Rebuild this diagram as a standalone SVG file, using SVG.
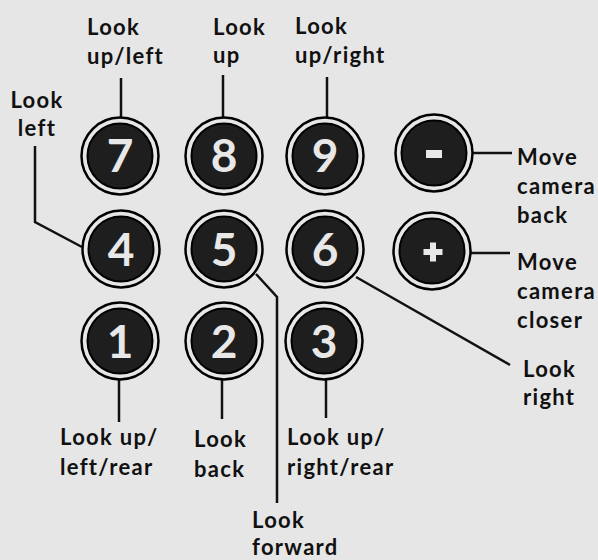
<svg xmlns="http://www.w3.org/2000/svg" width="598" height="560" viewBox="0 0 598 560">
<defs>
<style>
.lbl{font-family:Lato,"Liberation Sans",sans-serif;font-weight:700;font-size:22px;letter-spacing:1.3px;fill:#111}
.dig{font-family:Lato,"Liberation Sans",sans-serif;font-weight:700;font-size:46px;fill:#e8e8e8;text-anchor:middle}
.ring{fill:#e6e6e6;stroke:#000;stroke-width:2.5}
.core{fill:#1e1e1e;stroke:#000;stroke-width:2}
.ln{fill:none;stroke:#111;stroke-width:2.5}
</style>
<g id="btn">
<circle class="ring" r="38.5"/>
<circle class="core" r="32.5"/>
</g>
</defs>
<rect width="598" height="560" fill="#e6e6e6"/>
<g id="connectors">
<polyline class="ln" points="121,78 121,117"/>
<polyline class="ln" points="223,75 223,117"/>
<polyline class="ln" points="327,77 327,117"/>
<polyline class="ln" points="35,146 35,222 82,247"/>
<polyline class="ln" points="256,274 277,297 277,503"/>
<polyline class="ln" points="472,153 512,153"/>
<polyline class="ln" points="471,253 510,253"/>
<polyline class="ln" points="356,277 510,365"/>
<polyline class="ln" points="119,380 119,422"/>
<polyline class="ln" points="222,380 222,419"/>
<polyline class="ln" points="326,380 326,418"/>
</g>
<g id="k7"><use href="#btn" x="120" y="156"/><text class="dig" x="120" y="172">7</text></g>
<g id="k8"><use href="#btn" x="224" y="156"/><text class="dig" x="224" y="172">8</text></g>
<g id="k9"><use href="#btn" x="325" y="156"/><text class="dig" x="325" y="172">9</text></g>
<g id="kminus"><use href="#btn" x="434" y="153"/><rect x="426" y="150" width="16" height="8" fill="#e8e8e8"/></g>
<g id="k4"><use href="#btn" x="121" y="249"/><text class="dig" x="121" y="266">4</text></g>
<g id="k5"><use href="#btn" x="224" y="249"/><text class="dig" x="224" y="266">5</text></g>
<g id="k6"><use href="#btn" x="325" y="249"/><text class="dig" x="325" y="266">6</text></g>
<g id="kplus"><use href="#btn" x="432" y="251"/><path d="M423.5 252h19M433 242.5v19" stroke="#e8e8e8" stroke-width="6"/></g>
<g id="k1"><use href="#btn" x="120" y="341"/><text class="dig" x="120" y="358">1</text></g>
<g id="k2"><use href="#btn" x="224" y="341"/><text class="dig" x="224" y="358">2</text></g>
<g id="k3"><use href="#btn" x="324" y="341"/><text class="dig" x="324" y="358">3</text></g>
<g id="l7"><text class="lbl" x="87" y="35">Look</text><text class="lbl" x="87" y="64">up/left</text></g>
<g id="l8"><text class="lbl" x="213" y="35">Look</text><text class="lbl" x="213" y="63">up</text></g>
<g id="l9"><text class="lbl" x="295" y="34">Look</text><text class="lbl" x="295" y="63">up/right</text></g>
<g id="l4"><text class="lbl" x="37" y="108" text-anchor="middle">Look</text><text class="lbl" x="37" y="136" text-anchor="middle">left</text></g>
<g id="lminus"><text class="lbl" x="517" y="165">Move</text><text class="lbl" x="517" y="194">camera</text><text class="lbl" x="517" y="223">back</text></g>
<g id="lplus"><text class="lbl" x="517" y="270">Move</text><text class="lbl" x="517" y="299">camera</text><text class="lbl" x="517" y="328">closer</text></g>
<g id="l6"><text class="lbl" x="523" y="377">Look</text><text class="lbl" x="523" y="405">right</text></g>
<g id="l1"><text class="lbl" x="60" y="445">Look up/</text><text class="lbl" x="60" y="475">left/rear</text></g>
<g id="l2"><text class="lbl" x="194" y="447">Look</text><text class="lbl" x="194" y="477">back</text></g>
<g id="l3"><text class="lbl" x="287" y="445">Look up/</text><text class="lbl" x="287" y="475">right/rear</text></g>
<g id="l5"><text class="lbl" x="252" y="528">Look</text><text class="lbl" x="252" y="555">forward</text></g>
</svg>
